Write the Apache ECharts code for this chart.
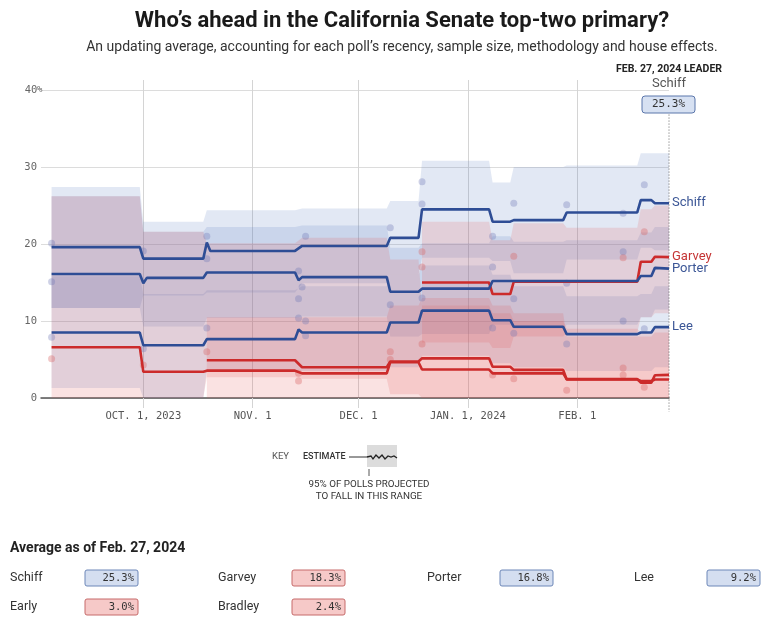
<!DOCTYPE html>
<html><head><meta charset="utf-8">
<script src="https://cdn.jsdelivr.net/npm/echarts@6/dist/echarts.min.js"></script>
<style>html,body{margin:0;padding:0;background:#fff}#c{width:768px;height:626px}</style>
</head><body><div id="c"></div>
<script>
// ---------------- data ----------------
const xStart = '2023-09-02', xEnd = '2024-02-27';
const tickDates = ['2023-10-01','2023-11-01','2023-12-01','2024-01-01','2024-02-01'];
const tickLabels = ['OCT. 1, 2023','NOV. 1','DEC. 1','JAN. 1, 2024','FEB. 1'];
const yTicks = [0,10,20,30,40];

// estimate lines (date, value)
const schiffDates = ['2023-09-05','2023-09-30','2023-10-01','2023-10-18','2023-10-19','2023-10-20','2023-11-13','2023-11-15','2023-12-09','2023-12-10','2023-12-18','2023-12-19','2024-01-07','2024-01-08','2024-01-13','2024-01-14','2024-01-28','2024-01-29','2024-02-18','2024-02-19','2024-02-22','2024-02-23','2024-02-27'];
const schiffValues = [19.6,19.6,18.1,18.1,20.2,19.1,19.1,19.75,19.75,20.8,20.8,24.5,24.5,22.9,22.9,23.1,23.1,24.1,24.1,25.7,25.7,25.3,25.3];
const porterDates = ['2023-09-05','2023-09-30','2023-10-01','2023-10-02','2023-10-18','2023-10-19','2023-11-13','2023-11-14','2023-11-15','2023-12-09','2023-12-10','2023-12-18','2023-12-19','2024-01-07','2024-01-08','2024-02-18','2024-02-19','2024-02-22','2024-02-23','2024-02-27'];
const porterValues = [16.1,16.1,14.9,15.6,15.6,16.3,16.3,15.3,15.7,15.7,13.8,13.8,14.2,14.2,15.2,15.2,15.85,15.85,16.9,16.8];
const leeDates = ['2023-09-05','2023-09-30','2023-10-01','2023-10-18','2023-10-19','2023-11-13','2023-11-14','2023-11-15','2023-12-09','2023-12-10','2023-12-18','2023-12-19','2024-01-07','2024-01-08','2024-01-13','2024-01-14','2024-01-28','2024-01-29','2024-02-18','2024-02-19','2024-02-22','2024-02-23','2024-02-27'];
const leeValues = [8.5,8.5,6.85,6.85,7.65,7.65,8.9,8.5,8.5,9.8,9.8,11.35,11.35,10.1,10.1,9.25,9.25,8.3,8.3,8.5,8.5,9.2,9.2];
const garveyDates = ['2023-12-19','2024-01-07','2024-01-08','2024-01-13','2024-01-14','2024-02-18','2024-02-19','2024-02-22','2024-02-23','2024-02-27'];
const garveyValues = [15.0,15.0,13.5,13.5,15.1,15.1,17.7,17.7,18.35,18.3];
const earlyDates = ['2023-09-05','2023-09-30','2023-10-01','2023-10-18','2023-10-19','2023-11-13','2023-11-15','2023-12-09','2023-12-10','2023-12-18','2023-12-19','2024-01-07','2024-01-08','2024-01-28','2024-01-29','2024-02-18','2024-02-19','2024-02-22','2024-02-23','2024-02-27'];
const earlyValues = [6.6,6.6,3.4,3.4,3.55,3.55,3.2,3.2,4.65,4.65,3.7,3.7,3.2,3.2,2.45,2.45,2.0,2.0,2.95,3.0];
const bradleyDates = ['2023-10-19','2023-11-13','2023-11-15','2023-12-09','2023-12-10','2023-12-18','2023-12-19','2024-01-07','2024-01-08','2024-01-13','2024-01-14','2024-01-28','2024-01-29','2024-02-18','2024-02-19','2024-02-22','2024-02-23','2024-02-27'];
const bradleyValues = [4.9,4.9,4.0,4.0,4.75,4.75,5.15,5.15,4.05,4.05,3.65,3.65,2.4,2.4,2.2,2.2,2.4,2.4];

// 95% ranges, held per segment
const segStarts = ['2023-09-05','2023-10-01','2023-10-19','2023-11-15','2023-12-10','2023-12-19','2024-01-08','2024-01-14','2024-01-29','2024-02-19','2024-02-23'];
const segEnds   = ['2023-09-30','2023-10-18','2023-11-13','2023-12-09','2023-12-18','2024-01-07','2024-01-13','2024-01-28','2024-02-18','2024-02-22','2024-02-27'];
const schiffLo = [11.7,13.3,13.7,14.9,16.0,18.2,17.8,16.2,18.0,19.5,19.2];
const schiffHi = [27.4,22.9,24.4,24.6,25.6,30.8,28.0,30.0,30.2,31.8,31.8];
const porterLo = [11.7,9.3,10.4,10.6,8.0,8.3,9.5,9.0,9.5,10.5,11.5];
const porterHi = [26.2,21.6,22.2,22.4,19.5,20.1,21.0,20.3,20.5,21.5,22.2];
const leeLo = [1.3,0,3.6,3.5,4.0,5.5,4.5,4.0,3.5,3.5,4.0];
const leeHi = [15.8,13.5,14.0,14.5,16.0,17.2,16.0,14.5,13.2,13.5,14.5];
const earlyLo = [0,0,2.7,2.5,0.5,0,0,0,0,0,0];
const earlyHi = [26.2,21.6,20.1,20.8,18.0,12.0,11.0,10.0,9.0,8.5,9.0];
const bradleyLo = [0,0,0,0,0,0,0,0,0];          // from segment 3
const bradleyHi = [10.5,10.5,12.0,13.0,12.0,11.0,8.0,8.0,8.5];
const garveyLo = [7.2,6.5,8.0,8.5,10.5,11.0];   // from segment 6
const garveyHi = [22.9,20.5,22.7,22.1,24.5,25.0];

// polls
const bluePollDates = ['2023-09-05','2023-09-05','2023-09-05','2023-10-01','2023-10-01','2023-10-19','2023-10-19','2023-10-19','2023-11-16','2023-11-14','2023-11-15','2023-11-14','2023-11-14','2023-11-16','2023-11-16','2023-12-10','2023-12-10','2023-12-19','2023-12-19','2023-12-19','2024-01-08','2024-01-08','2024-01-08','2024-01-14','2024-01-14','2024-01-14','2024-01-29','2024-01-29','2024-01-29','2024-02-14','2024-02-14','2024-02-14','2024-02-20','2024-02-20'];
const bluePollValues = [20.1,15.1,7.9,19.1,6.4,21.0,18.1,9.1,21.0,16.5,14.4,12.9,10.4,10.0,8.1,22.1,12.1,28.1,25.2,13.0,21.0,17.0,9.1,25.3,12.9,8.4,25.1,14.9,7.0,24.0,19.0,10.0,27.7,9.0];
const redPollDates = ['2023-09-05','2023-10-01','2023-10-19','2023-11-14','2023-11-14','2023-12-10','2023-12-10','2023-12-19','2023-12-19','2023-12-19','2024-01-08','2024-01-14','2024-01-14','2024-01-29','2024-02-14','2024-02-14','2024-02-14','2024-02-20','2024-02-20'];
const redPollValues = [5.1,4.3,6.0,3.2,2.2,6.0,5.0,19.0,17.0,7.0,3.0,18.4,2.5,1.0,18.2,3.9,3.0,21.6,1.4];

// summary table
const tableNames = ['Schiff','Garvey','Porter','Lee','Early','Bradley'];
const tableValues = ['25.3%','18.3%','16.8%','9.2%','3.0%','2.4%'];
const tableParty = ['D','R','D','D','R','R'];
const leaderName = 'Schiff', leaderValue = '25.3%', leaderTitle = 'FEB. 27, 2024 LEADER';

// ---------------- helpers ----------------
const BLUE = '#2e4d95', RED = '#cc2b2b';
const BLUE_BAND = 'rgba(95,125,195,0.18)', RED_BAND = 'rgba(225,85,85,0.17)';
function ts(s){const p=s.split('-').map(Number);return new Date(p[0],p[1]-1,p[2]).getTime();}
function pts(d,v){return d.map((x,i)=>[ts(x),v[i]]);}
function stepPts(st,en,v){const o=[];v.forEach((val,i)=>{o.push([ts(st[i]),val]);o.push([ts(en[i]),val]);});return o;}
function band(name,off,lo,hi,color){
  const st=segStarts.slice(off), en=segEnds.slice(off);
  const up=stepPts(st,en,hi), dn=stepPts(st,en,lo);
  return {type:'custom',name:name+' range',coordinateSystem:'cartesian2d',silent:true,clip:false,
    data:[[up[0][0],hi[0]]],
    renderItem:function(params,api){
      const poly=up.map(p=>api.coord(p)).concat(dn.slice().reverse().map(p=>api.coord(p)));
      return {type:'polygon',shape:{points:poly},style:{fill:color}};
    }};
}
function estLine(name,d,v,color,label){
  const s={type:'line',name:name,data:pts(d,v),symbol:'none',showSymbol:false,silent:true,
    lineStyle:{color:color,width:2.6},z:5};
  if(label){s.endLabel={show:true,formatter:name,color:color==BLUE?'#3b5696':'#c53535',fontSize:13,fontFamily:'Roboto',distance:3};}
  return s;
}
const tickVals = tickDates.map(ts);
const monoFont = '"DejaVu Sans Mono", monospace';

const series = [
  band('Schiff',0,schiffLo,schiffHi,BLUE_BAND),
  band('Porter',0,porterLo,porterHi,BLUE_BAND),
  band('Lee',0,leeLo,leeHi,BLUE_BAND),
  band('Early',0,earlyLo,earlyHi,RED_BAND),
  band('Bradley',2,bradleyLo,bradleyHi,RED_BAND),
  band('Garvey',5,garveyLo,garveyHi,RED_BAND),
  {type:'custom',name:'latest',coordinateSystem:'cartesian2d',silent:true,clip:false,z:3,
    data:[[ts(xEnd),0]],
    renderItem:function(params,api){
      const a=api.coord([ts(xEnd),37.2]), b=api.coord([ts(xEnd),-1.8]);
      return {type:'line',shape:{x1:a[0],y1:a[1],x2:b[0],y2:b[1]},style:{stroke:'#666',lineWidth:1,lineDash:[1,2]}};
    }},
  {type:'scatter',name:'polls D',data:pts(bluePollDates,bluePollValues),symbolSize:7,itemStyle:{color:'rgba(110,120,180,0.42)'},silent:true},
  {type:'scatter',name:'polls R',data:pts(redPollDates,redPollValues),symbolSize:7,itemStyle:{color:'rgba(215,100,100,0.45)'},silent:true},
  estLine('Early',earlyDates,earlyValues,RED,false),
  estLine('Bradley',bradleyDates,bradleyValues,RED,false),
  estLine('Garvey',garveyDates,garveyValues,RED,true),
  estLine('Lee',leeDates,leeValues,BLUE,true),
  estLine('Porter',porterDates,porterValues,BLUE,true),
  estLine('Schiff',schiffDates,schiffValues,BLUE,true)
];

// graphic annotations
const g = [];
g.push({type:'text',x:402,y:21,style:{text:"Who’s ahead in the California Senate top-two primary?",font:'bold 22px Roboto',fill:'#1a1a1a',align:'center',verticalAlign:'middle'}});
g.push({type:'text',x:402,y:47,style:{text:'An updating average, accounting for each poll’s recency, sample size, methodology and house effects.',font:'14px Roboto',fill:'#333',align:'center',verticalAlign:'middle'}});
g.push({type:'text',x:669,y:69,style:{text:leaderTitle,font:'bold 10.5px Roboto',fill:'#222',align:'center',verticalAlign:'middle'}});
g.push({type:'text',x:669,y:84,style:{text:leaderName,font:'13px Roboto',fill:'#555',align:'center',verticalAlign:'middle'}});
g.push({type:'rect',shape:{x:642,y:96,width:53,height:17,r:3},style:{fill:'#d7e1f2',stroke:'#5b76ab',lineWidth:1},z:100});
g.push({type:'text',x:668.5,y:104.5,style:{text:leaderValue,font:'11px '+monoFont,fill:'#333',align:'center',verticalAlign:'middle'},z:101});
// key
g.push({type:'text',x:272,y:457,style:{text:'KEY',font:'9.5px Roboto',fill:'#555',verticalAlign:'middle'}});
g.push({type:'text',x:303,y:457,style:{text:'ESTIMATE',font:'500 9px Roboto',fill:'#333',verticalAlign:'middle'}});
g.push({type:'line',shape:{x1:349,y1:457,x2:367,y2:457},style:{stroke:'#333',lineWidth:1}});
g.push({type:'rect',shape:{x:367,y:445,width:30,height:22},style:{fill:'#dcdcdc'}});
g.push({type:'polyline',shape:{points:[[367,457],[371,456],[373,459],[376,455],[379,458],[382,455],[385,459],[388,456],[391,457],[394,456],[397,458]]},style:{stroke:'#222',lineWidth:1.3,fill:null}});
g.push({type:'line',shape:{x1:369,y1:469,x2:369,y2:476},style:{stroke:'#555',lineWidth:1}});
g.push({type:'text',x:369,y:485,style:{text:'95% OF POLLS PROJECTED',font:'9.8px Roboto',fill:'#333',align:'center',verticalAlign:'middle'}});
g.push({type:'text',x:369,y:497,style:{text:'TO FALL IN THIS RANGE',font:'9.8px Roboto',fill:'#333',align:'center',verticalAlign:'middle'}});
// table
g.push({type:'text',x:10,y:548,style:{text:'Average as of Feb. 27, 2024',font:'bold 14px Roboto',fill:'#222',verticalAlign:'middle'}});
const colLabelX=[10,218,427,634], colBoxX=[85,292,500,707], rowY=[578,607];
tableNames.forEach((n,i)=>{
  const c=i%4, r=Math.floor(i/4);
  const blue = tableParty[i]==='D';
  g.push({type:'text',x:colLabelX[c],y:rowY[r],style:{text:n,font:'12.5px Roboto',fill:'#333',verticalAlign:'middle'}});
  g.push({type:'rect',shape:{x:colBoxX[c],y:rowY[r]-8,width:53,height:16,r:2},style:{fill:blue?'#d4def0':'#f6c9c8',stroke:blue?'#6d87b8':'#c66a6a',lineWidth:1}});
  g.push({type:'text',x:colBoxX[c]+49,y:rowY[r],style:{text:tableValues[i],font:'10.5px '+monoFont,fill:'#333',align:'right',verticalAlign:'middle'}});
});

const chart = echarts.init(document.getElementById('c'),null,{renderer:'canvas'});
chart.setOption({
  animation:false,
  backgroundColor:'#fff',
  grid:{left:41,right:99,top:80,bottom:228,containLabel:false},
  xAxis:{type:'value',min:ts(xStart),max:ts(xEnd),scale:true,
    axisLine:{show:true,onZero:false,lineStyle:{color:'#555',width:1.5}},
    axisTick:{show:true,length:10,customValues:tickVals,lineStyle:{color:'#d4d4d4'}},
    axisLabel:{customValues:tickVals,margin:13,color:'#555',fontFamily:monoFont,fontSize:10.5,
      formatter:(v)=>{const i=tickVals.indexOf(v);return i>=0?tickLabels[i]:'';}},
    splitLine:{show:true,lineStyle:{color:'#d4d4d4',width:1}}
  },
  yAxis:{type:'value',min:0,max:41.3,
    axisLine:{show:false},axisTick:{show:false,customValues:yTicks},
    axisLabel:{customValues:yTicks,align:'left',margin:16,color:'#666',fontFamily:monoFont,fontSize:10.5,
      formatter:(v)=>v===40?'{n|40}{p|%}':'{n|'+v+'}',
      rich:{n:{width:12,align:'right',fontFamily:monoFont,fontSize:10.5,color:'#666'},p:{fontFamily:monoFont,fontSize:9,color:'#666'}}},
    splitLine:{show:true,lineStyle:{color:'#dcdcdc',width:1}}
  },
  series:series,
  graphic:g
});
</script></body></html>
